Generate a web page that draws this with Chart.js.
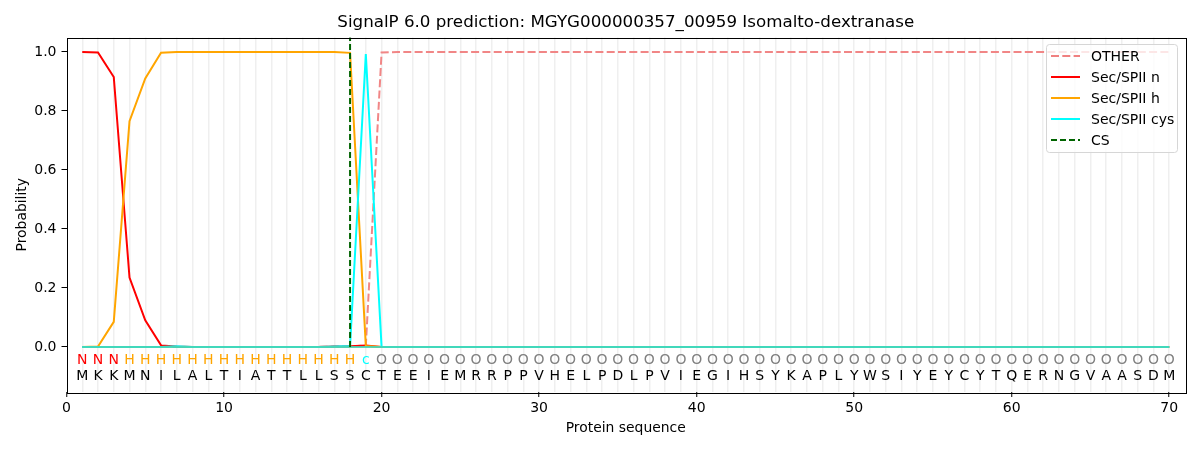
<!DOCTYPE html>
<html>
<head>
<meta charset="utf-8">
<script src="https://cdn.jsdelivr.net/npm/chart.js@4.4.0/dist/chart.umd.min.js"></script>
<style>
  html, body { margin:0; padding:0; background:#fff; }
  #wrap { width:1200px; height:450px; }
</style>
</head>
<body>
<div id="wrap"><canvas id="signalp_chart" width="1200" height="450"></canvas></div>
<script>
// residues and per-position labels
const residues = "MKKMNILALTIATTLLSSCTEEIEMRRPPVHELPDLPVIEGIHSYKAPLYWSIYEYCYTQERNGVAASDM".split("");
const regionLabels = "NNNHHHHHHHHHHHHHHHcOOOOOOOOOOOOOOOOOOOOOOOOOOOOOOOOOOOOOOOOOOOOOOOOOOO".split("");

// probabilities, positions 1..70 (values after the listed ones stay flat)
const otherProb = [0,0,0,0,0,0,0,0,0,0,0,0,0,0,0,0,0.001,0.002,0.004,0.998];
const secN      = [1.0,0.998,0.915,0.235,0.09,0.005,0.001,0,0,0,0,0,0,0,0,0,0.001,0.002,0.005,0];
const secH      = [0,0.001,0.085,0.765,0.91,0.997,1.0,1.0,1.0,1.0,1.0,1.0,1.0,1.0,1.0,1.0,1.0,0.997,0.003,0];
const secCys    = [0,0,0,0,0,0,0.002,0,0,0,0,0,0,0,0,0,0.001,0.003,0.993,0];
const restTail  = { other:1.0, n:0, h:0, cys:0 };
const baseline  = new Array(70).fill(0);
const csPos = 18;

const yTicks = [0.0, 0.2, 0.4, 0.6, 0.8, 1.0];
const titleText = "SignalP 6.0 prediction: MGYG000000357_00959 Isomalto-dextranase";

function fullSeries(head, tail) {
    let out = [];
    for(let i=0; i<residues.length; i++) {
        out.push({x:i+1, y:(i < head.length ? head[i] : tail)});
    }
    return out;
}

const labelColors = { N:"#ff0000", H:"#ffa500", c:"#00ffff", O:"#808080" };
const FONT = "'DejaVu Sans', sans-serif";

const legendItems = [
    {label:"OTHER", color:"#f08080", dash:[8,3.3]},
    {label:"Sec/SPII n", color:"#ff0000", dash:[]},
    {label:"Sec/SPII h", color:"#ffa500", dash:[]},
    {label:"Sec/SPII cys", color:"#00ffff", dash:[]},
    {label:"CS", color:"#006400", dash:[6,3]}
];

const extras = {
    id:"extras",
    afterDatasetsDraw(chart) {
        const ctx = chart.ctx;
        const xs = chart.scales.x, ys = chart.scales.y;
        const area = chart.chartArea;
        ctx.save();
        // title, centred over the plot area
        ctx.font = "16.7px " + FONT;
        ctx.fillStyle = "#000";
        ctx.textAlign = "center";
        ctx.textBaseline = "middle";
        ctx.fillText(titleText, (area.left+area.right)/2, 23);
        // sequence rows
        ctx.font = "14px " + FONT;
        for(let i=0; i<residues.length; i++) {
            let px = xs.getPixelForValue(i+1);
            ctx.fillStyle = labelColors[regionLabels[i]];
            ctx.fillText(regionLabels[i], px, ys.getPixelForValue(-0.047));
            ctx.fillStyle = "#000";
            ctx.fillText(residues[i], px, ys.getPixelForValue(-0.1));
        }
        // frame
        ctx.strokeStyle = "#000";
        ctx.lineWidth = 1;
        ctx.setLineDash([]);
        ctx.strokeRect(Math.round(area.left)+0.5, Math.round(area.top)+0.5,
            Math.round(area.right-area.left), Math.round(area.bottom-area.top));
        // legend box
        let bx = 1046.5, by = 44.5, bw = 131, bh = 108;
        ctx.fillStyle = "rgba(255,255,255,0.8)";
        ctx.strokeStyle = "#d6d6d6";
        ctx.beginPath();
        ctx.roundRect(bx, by, bw, bh, 3);
        ctx.fill();
        ctx.stroke();
        ctx.textAlign = "left";
        for(let i=0; i<legendItems.length; i++) {
            let it = legendItems[i];
            let ly = 56 + i*21;
            ctx.strokeStyle = it.color;
            ctx.lineWidth = 2;
            ctx.setLineDash(it.dash);
            ctx.beginPath();
            ctx.moveTo(1051, ly);
            ctx.lineTo(1080, ly);
            ctx.stroke();
            ctx.fillStyle = "#000";
            ctx.fillText(it.label, 1091, ly+1);
        }
        ctx.restore();
    }
};

new Chart(document.getElementById("signalp_chart"), {
    type:"line",
    plugins:[extras],
    data:{
        datasets:[
            {label:"CS", data:[{x:csPos,y:0},{x:csPos,y:1.05}], borderColor:"#006400", borderDash:[6,3], borderWidth:2, order:1},
            {label:"OTHER", data:fullSeries(otherProb, restTail.other), borderColor:"rgba(240,128,128,0.95)", borderDash:[8,3.3], borderWidth:2, order:6},
            {label:"Sec/SPII n", data:fullSeries(secN, restTail.n), borderColor:"#ff0000", borderWidth:2, order:5},
            {label:"Sec/SPII h", data:fullSeries(secH, restTail.h), borderColor:"#ffa500", borderWidth:2, order:4},
            {label:"Sec/SPII cys", data:fullSeries(secCys, restTail.cys), borderColor:"#00ffff", borderWidth:2, order:3},
            {label:"baseline", data:baseline.map((v,i)=>({x:i+1,y:v})), borderColor:"rgba(72,212,180,0.9)", borderWidth:2, order:2}
        ]
    },
    options:{
        responsive:false,
        animation:false,
        devicePixelRatio:1,
        layout:{ padding:{left:0, right:15, top:37.5, bottom:0} },
        elements:{ point:{radius:0}, line:{tension:0} },
        plugins:{
            legend:{ display:false },
            tooltip:{ enabled:false },
            title:{ display:false }
        },
        scales:{
            x:{
                type:"linear",
                min:0, max:71,
                afterBuildTicks:(s)=>{ s.ticks = []; for(let i=0;i<=70;i++) s.ticks.push({value:i}); },
                afterFit:(s)=>{ s.height = 58; },
                grid:{
                    drawOnChartArea:true,
                    color:(c)=> (c.tick && c.tick.value > 0 && c.tick.value <= 70) ? "#efefef" : "rgba(0,0,0,0)",
                    lineWidth:1.5,
                    tickColor:(c)=> (c.tick && c.tick.value % 10 === 0) ? "#000" : "rgba(0,0,0,0)",
                    tickLength:5,
                    tickWidth:1
                },
                border:{ display:false },
                ticks:{
                    autoSkip:false, maxRotation:0,
                    color:"#000", padding:3,
                    font:{family:FONT, size:14},
                    callback:(v)=> (v % 10 === 0) ? String(v) : ""
                },
                title:{
                    display:true, text:"Protein sequence", color:"#000",
                    font:{family:FONT, size:13.9},
                    padding:{top:0, bottom:13}
                }
            },
            y:{
                min:-0.153, max:1.049,
                afterBuildTicks:(s)=>{ s.ticks = yTicks.map(v=>({value:v})); },
                afterFit:(s)=>{ s.width = 66.5; },
                grid:{ drawOnChartArea:false, tickColor:"#000", tickLength:5 },
                border:{ display:false },
                ticks:{
                    color:"#000", padding:5,
                    font:{family:FONT, size:14},
                    callback:(v)=> v.toFixed(1)
                },
                title:{
                    display:true, text:"Probability", color:"#000",
                    font:{family:FONT, size:13.9},
                    padding:{top:14, bottom:0}
                }
            }
        }
    }
});
</script>
</body>
</html>
